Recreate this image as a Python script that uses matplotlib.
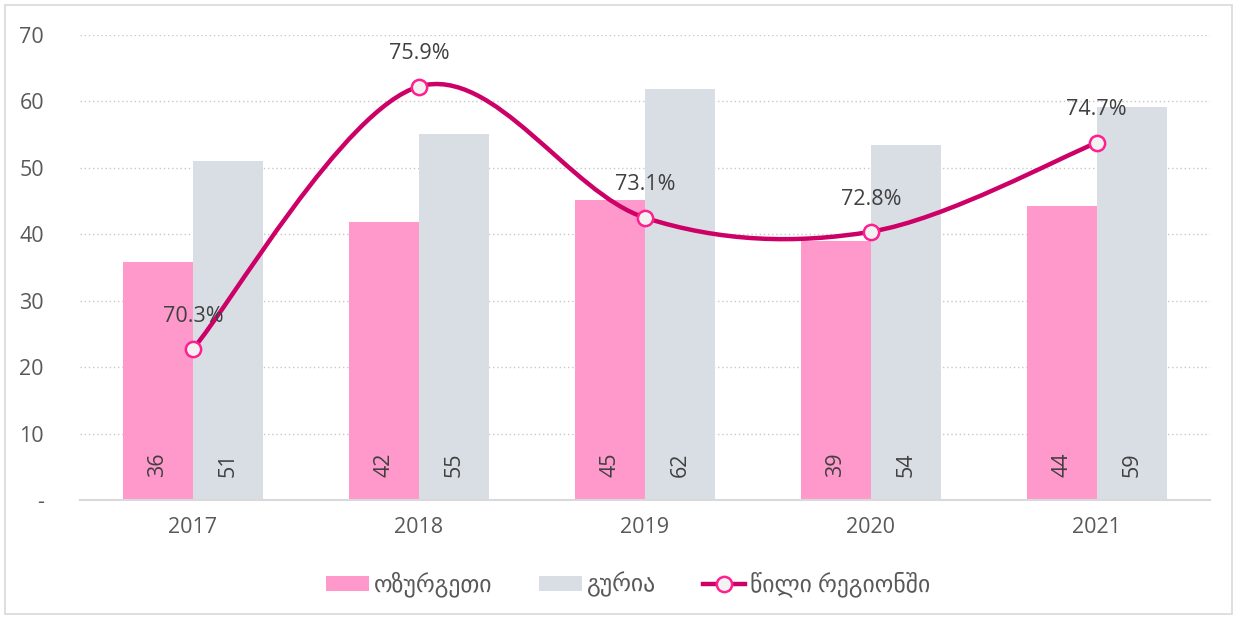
import numpy as np
import matplotlib.pyplot as plt
from matplotlib.path import Path
from matplotlib.patches import PathPatch, Rectangle
from matplotlib.lines import Line2D

plt.rcParams['font.family'] = ['Open Sans', 'DejaVu Sans']

# Data
years = ['2017', '2018', '2019', '2020', '2021']
ozurgeti = [35.8, 41.9, 45.2, 39.0, 44.2]
guria = [51.0, 55.1, 61.9, 53.5, 59.2]
share = [70.3, 75.9, 73.1, 72.8, 74.7]
share_labels = ['70.3%', '75.9%', '73.1%', '72.8%', '74.7%']

pink = '#ff99cc'
grey = '#d9dee5'
line_c = '#cc0066'
txt = '#404040'

fig = plt.figure(figsize=(12.37, 6.19), dpi=100)
ax = fig.add_axes([0.0647, 0.192, 0.9133, 0.7515])

x = np.arange(len(years))
w = 0.31
b1 = ax.bar(x - w / 2, ozurgeti, w, color=pink, zorder=2)
b2 = ax.bar(x + w / 2, guria, w, color=grey, zorder=2)

for bars in (b1, b2):
    for r in bars:
        ax.text(r.get_x() + r.get_width() / 2, 5.3, f'{r.get_height():.0f}',
                rotation=90, ha='center', va='center', fontsize=15.5, color=txt, zorder=3)

ax.set_xlim(-0.5, 4.5)
ax.set_ylim(0, 70)
ax.set_yticks(range(0, 71, 10))
ax.set_yticklabels(['-'] + [str(v) for v in range(10, 71, 10)])
ax.set_xticks(x)
ax.set_xticklabels(years)
ax.tick_params(axis='y', length=0, pad=26, labelsize=15.5, labelcolor='#595959')
ax.tick_params(axis='x', length=0, pad=12, labelsize=15.5, labelcolor='#595959')
ax.grid(axis='y', linestyle=(0, (1, 2)), color='#c8c8c8', linewidth=1, zorder=0)
for s in ['top', 'right', 'left']:
    ax.spines[s].set_visible(False)
ax.spines['bottom'].set_color('#d9d9d9')
ax.spines['bottom'].set_linewidth(1.5)
ax.set_axisbelow(True)

# secondary (hidden) axis for the share line
ax2 = ax.twinx()
ax2.set_ylim(67.07, 77.0)
ax2.axis('off')

# smoothed line drawn as bezier curves through the points
pts = np.column_stack([x, share]).astype(float)
verts = [pts[0]]
codes = [Path.MOVETO]
n = len(pts)
for i in range(n - 1):
    p0 = pts[i - 1] if i > 0 else pts[i]
    p1 = pts[i]
    p2 = pts[i + 1]
    p3 = pts[i + 2] if i + 2 < n else pts[i + 1]
    c1 = p1 + (p2 - p0) / 6
    c2 = p2 - (p3 - p1) / 6
    verts += [c1, c2, p2]
    codes += [Path.CURVE4] * 3
ax2.add_patch(PathPatch(Path(verts, codes), facecolor='none', edgecolor=line_c,
                        linewidth=3.2, capstyle='round', zorder=4))
ax2.plot(x, share, linestyle='none', marker='o', markersize=11,
         markerfacecolor='#f2f2f2', markeredgecolor='#ff1f8f', markeredgewidth=1.8, zorder=5)
for xi, yi, lab in zip(x, share, share_labels):
    ax2.annotate(lab, (xi, yi), xytext=(0, 16), textcoords='offset points',
                 ha='center', va='bottom', fontsize=15.5, color=txt, zorder=6)

line_handle = Line2D([], [], color=line_c, linewidth=3.2, marker='o', markersize=11,
                     markerfacecolor='#f2f2f2', markeredgecolor='#ff1f8f', markeredgewidth=1.8)
fig.legend([b1, b2, line_handle], ['ოზურგეთი', 'გურია', 'წილი რეგიონში'],
           loc='center', bbox_to_anchor=(0.508, 0.055), ncol=3, frameon=False,
           fontsize=17, labelcolor='#595959', handlelength=1.8, handleheight=0.65,
           columnspacing=2.0, handletextpad=0.2)

fig.patches.append(Rectangle((0.004, 0.008), 0.992, 0.984, transform=fig.transFigure,
                             fill=False, edgecolor='#d9d9d9', linewidth=1.2))

fig.savefig('out.png', dpi=100)
